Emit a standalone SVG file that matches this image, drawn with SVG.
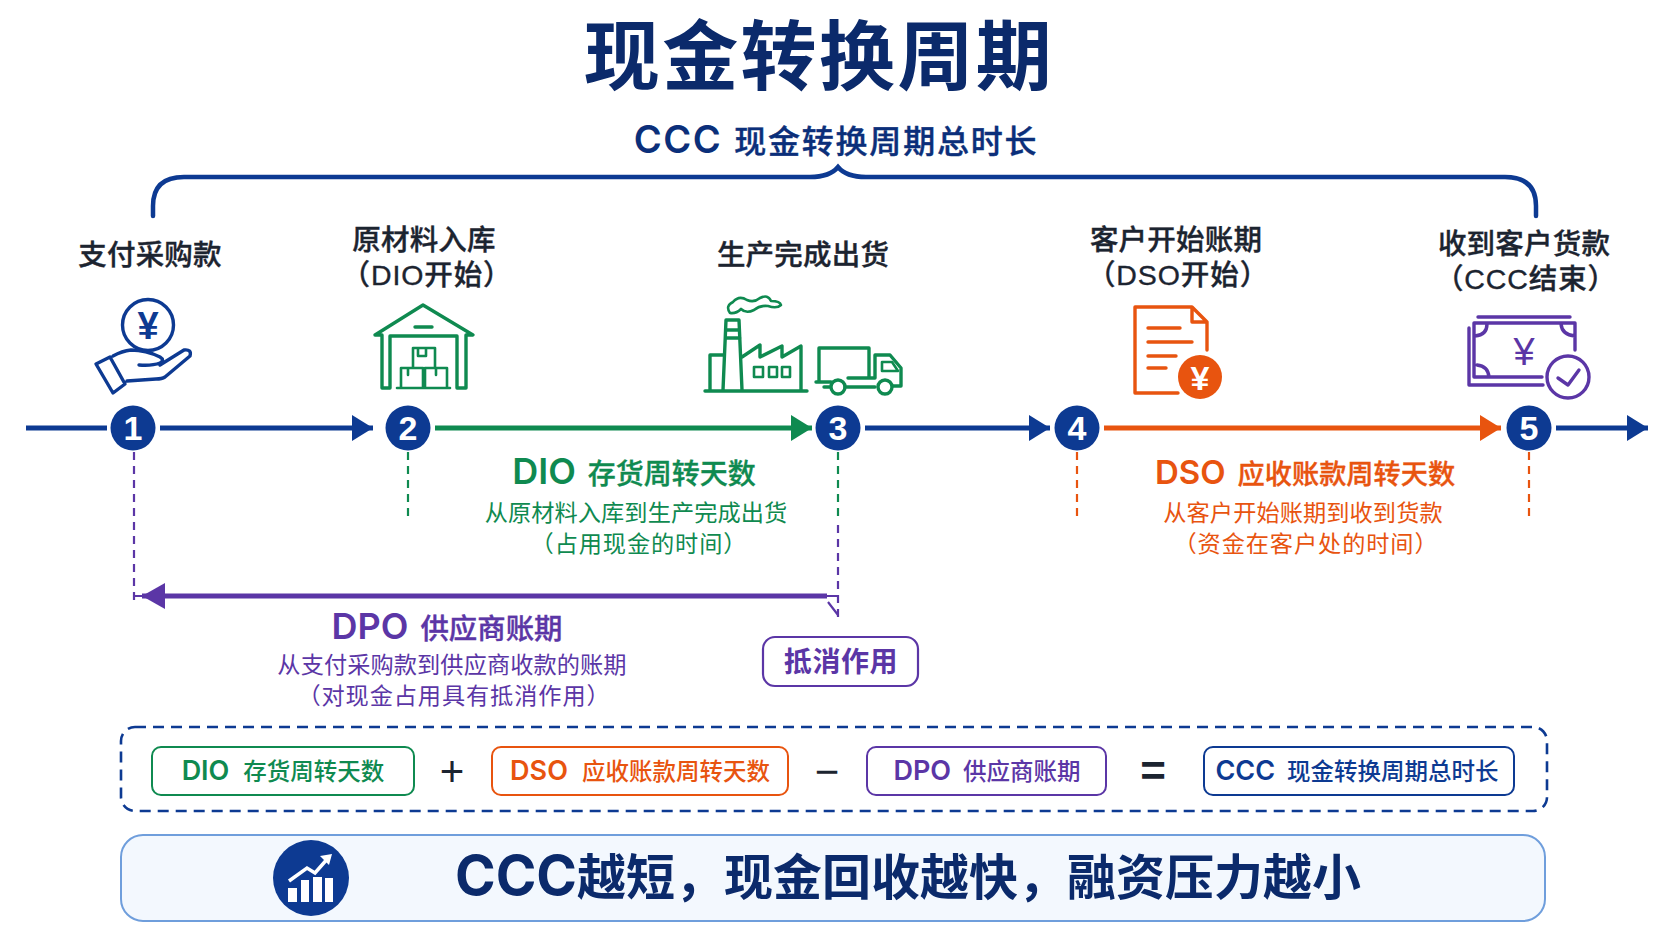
<svg xmlns="http://www.w3.org/2000/svg" width="1672" height="941" viewBox="0 0 1672 941">
<style>
text{font-family:"Liberation Sans","Noto Sans CJK SC",sans-serif;text-anchor:middle}
.cjk{font-family:"Noto Sans CJK SC","Noto Sans",sans-serif}
.lat{font-family:Inter,"Liberation Sans",sans-serif;font-weight:600}
.stepl{font-family:"Liberation Sans","Noto Sans CJK SC",sans-serif;font-size:28.5px;font-weight:500;fill:#1c2430;stroke:#1c2430;stroke-width:.35;letter-spacing:.2px}
.num{font-size:34px;font-weight:700;fill:#fff}
.c{fill:#0d3a92}
.blue{stroke:#0d3a92;fill:none}.green{stroke:#0f8a50;fill:none}.orange{stroke:#e8540f;fill:none}.purple{stroke:#5b36a6;fill:none}
.ln{stroke-width:5}
.icon{stroke-width:3.4;fill:none;stroke-linecap:round;stroke-linejoin:round}
.thin{stroke-width:2.6}
.dash{stroke-width:2.2;stroke-dasharray:8 6}
.sub{font-size:23.2px;letter-spacing:.1px}
.par{letter-spacing:.9px}
.head{font-size:28px;font-weight:500;stroke-width:.35}
.pt{font-size:23.5px;font-weight:500}
.pl{font-size:27px}
.pill{fill:#fff;stroke-width:2}
.ft{fill:#0d3a92}.fg{fill:#0f8a50}.fo{fill:#e8540f}.fp{fill:#5b36a6}
.op{font-size:42px;fill:#1c2430}
</style>
<defs>
<marker id="ab" markerUnits="userSpaceOnUse" markerWidth="22" markerHeight="26" refX="21" refY="13" orient="auto"><path d="M0 0L21 13L0 26z" fill="#0d3a92"/></marker>
<marker id="ag" markerUnits="userSpaceOnUse" markerWidth="22" markerHeight="26" refX="21" refY="13" orient="auto"><path d="M0 0L21 13L0 26z" fill="#0f8a50"/></marker>
<marker id="ao" markerUnits="userSpaceOnUse" markerWidth="22" markerHeight="26" refX="21" refY="13" orient="auto"><path d="M0 0L21 13L0 26z" fill="#e8540f"/></marker>
<marker id="ap" markerUnits="userSpaceOnUse" markerWidth="24" markerHeight="26" refX="23" refY="13" orient="auto"><path d="M0 0L23 13L0 26z" fill="#5b36a6"/></marker>
</defs>
<rect width="1672" height="941" fill="#fff"/>

<g id="title">
<text x="819" y="84" font-size="76" font-weight="700" letter-spacing="2.4" fill="#0b2a6b">现金转换周期</text>
<text x="836" y="153" fill="#0b2f7a"><tspan class="lat" font-size="38" letter-spacing="1.5">CCC</tspan><tspan class="cjk" font-size="32" dx="12" font-weight="500" letter-spacing="1.8" stroke="#0b2f7a" stroke-width=".4">现金转换周期总时长</tspan></text>
</g>

<g id="connectors">
<path id="brace" d="M153 216V206Q153 177 184 177H810Q830 177 838 167Q846 177 866 177H1505Q1536 177 1536 206V216" class="blue" stroke-width="4.5" stroke-linecap="round"/>
<path class="blue ln" d="M26 428H107"/>
<path class="blue ln" d="M160 428H373" marker-end="url(#ab)"/>
<path class="green ln" d="M435 428H812" marker-end="url(#ag)"/>
<path class="blue ln" d="M865 428H1050" marker-end="url(#ab)"/>
<path class="orange ln" d="M1104 428H1501" marker-end="url(#ao)"/>
<path class="blue ln" d="M1556 428H1648" marker-end="url(#ab)"/>
<path class="purple dash" d="M134 452V603"/>
<path class="purple" stroke-width="2" d="M134 596H142"/>
<path class="green dash" d="M408 452V520"/>
<path class="green dash" d="M838 452V520"/>
<path class="purple dash" d="M838 525V618"/>
<path class="orange dash" d="M1077 452V520"/>
<path class="orange dash" d="M1529 452V520"/>
<path class="purple ln" stroke-width="6" d="M827 596H142" marker-end="url(#ap)"/>
<path class="purple" stroke-width="2.2" d="M827 596H838M828 602L838 615"/>
</g>

<g id="node1">
<circle cx="148" cy="325" r="25.5" class="blue icon"/>
<text x="148" y="339" font-size="38" font-weight="700" class="c">¥</text>
<path class="blue icon" d="M96 364L110 357L125 384L113 393zM113 356Q122 351 131 350Q146 350 160 357Q165 360 160 363Q152 366 139 365M160 365L184 350Q192 349 190 356L165 377Q162 379 156 379L127 381"/>
<circle cx="133" cy="428" r="22.5" class="c"/><text class="num" x="133" y="440">1</text>
<text class="stepl" x="150" y="265">支付采购款</text>
</g>
<g id="node2">
<path class="green icon" d="M375 335L423 305L473 335H466V388H457V336H390V388H382V335z M415 327H432"/>
<path class="green icon thin" d="M397 388H450M401 388V368H423V388M425 388V368H447V388M413 368V348H435V368M418 349V356H426V349M408 369V375M436 369V375"/>
<circle cx="408" cy="428" r="22.5" class="c"/><text class="num" x="408" y="440">2</text>
<text class="stepl" x="424" y="250">原材料入库<tspan x="427" dy="35" class="par">（DIO开始）</tspan></text>
</g>
<g id="node3">
<path class="green icon" d="M705 391H807M710 390V355H723M723 390L726 320H739L742 390M726 330H739M726 338H740M742 357L760 345V357L782 346V357L801 346V390"/>
<rect x="754" y="367" width="9" height="10" class="green icon thin"/><rect x="769" y="367" width="8" height="10" class="green icon thin"/><rect x="782" y="367" width="8" height="10" class="green icon thin"/>
<path class="green icon thin" d="M730 313Q725 306 733 302Q739 295 747 300Q754 303 760 298Q768 294 771 301Q780 301 781 305Q777 309 768 306Q760 305 754 310Q746 314 741 309Q736 314 730 313z"/>
<path class="green icon" d="M819 381V348H869V378H848M848 378H875V355H890L901 368V386H893M875 387H845M830 387H824M816 382H831M875 355V378"/>
<circle cx="838" cy="387" r="7" class="green icon"/><circle cx="885" cy="387" r="7" class="green icon"/>
<path class="green icon thin" d="M882 362H892L898 371H882z"/>
<circle cx="838" cy="428" r="22.5" class="c"/><text class="num" x="838" y="440">3</text>
<text class="stepl" x="803" y="265">生产完成出货</text>
</g>
<g id="node4">
<path class="orange icon" d="M1207 350V322L1192 307H1135V393H1178M1207 322H1192V307M1148 328H1180M1148 342H1192M1148 356H1176M1148 368H1166"/>
<circle cx="1200" cy="377" r="22" fill="#e8540f"/>
<text x="1200" y="390" font-size="34" font-weight="700" fill="#fff">¥</text>
<circle cx="1077" cy="428" r="22.5" class="c"/><text class="num" x="1077" y="440">4</text>
<text class="stepl" x="1176" y="250">客户开始账期<tspan x="1178" dy="35" class="par">（DSO开始）</tspan></text>
</g>
<g id="node5">
<path class="purple icon" d="M1478 317H1570M1474 323H1575V350M1542 377H1474V323M1469 328V385H1543M1477 365Q1488 366 1489 377M1487 324Q1487 335 1475 336M1561 324Q1562 335 1575 336"/>
<circle cx="1568" cy="377" r="21" class="purple icon"/>
<path class="purple icon" d="M1558 378L1568 385L1579 370"/>
<text x="1524" y="365" font-size="38" class="fp">¥</text>
<circle cx="1529" cy="428" r="22.5" class="c"/><text class="num" x="1529" y="440">5</text>
<text class="stepl" x="1524" y="254">收到客户货款<tspan x="1526" dy="35" class="par">（CCC结束）</tspan></text>
</g>

<g id="dio-label">
<text x="634" y="484" class="fg"><tspan class="lat" font-size="36">DIO</tspan><tspan class="cjk head" dx="12" stroke="#0f8a50">存货周转天数</tspan></text>
<text x="636" y="521" class="fg cjk sub">从原材料入库到生产完成出货<tspan x="639" dy="31" class="par">（占用现金的时间）</tspan></text>
</g>
<g id="dso-label">
<text x="1305" y="484" class="fo"><tspan class="lat" font-size="33">DSO</tspan><tspan class="cjk head" dx="12" stroke="#e8540f" style="font-size:27.2px">应收账款周转天数</tspan></text>
<text x="1303" y="521" class="fo cjk sub">从客户开始账期到收到货款<tspan x="1306" dy="31" class="par">（资金在客户处的时间）</tspan></text>
</g>
<g id="dpo-label">
<text x="447" y="639" class="fp"><tspan class="lat" font-size="36">DPO</tspan><tspan class="cjk head" dx="12" stroke="#5b36a6" style="font-size:28.4px">供应商账期</tspan></text>
<text x="452" y="673" class="fp cjk sub">从支付采购款到供应商收款的账期<tspan x="454" dy="31" class="par">（对现金占用具有抵消作用）</tspan></text>
</g>
<g id="offset">
<rect x="763" y="637" width="155" height="49" rx="12" class="purple" stroke-width="2.2"/>
<text x="841" y="672" font-size="28" font-weight="700" letter-spacing=".6" class="cjk fp">抵消作用</text>
</g>

<g id="formula">
<rect x="121" y="727" width="1426" height="84" rx="14" class="blue" stroke-width="2.6" stroke-dasharray="11 7"/>
<rect x="152" y="747" width="262" height="48" rx="9" class="pill green"/>
<text x="283" y="780" class="fg"><tspan class="lat pl">DIO</tspan><tspan class="cjk pt" dx="14">存货周转天数</tspan></text>
<text x="452" y="786" class="op">+</text>
<rect x="492" y="747" width="296" height="48" rx="9" class="pill orange"/>
<text x="640" y="780" class="fo"><tspan class="lat pl">DSO</tspan><tspan class="cjk pt" dx="14">应收账款周转天数</tspan></text>
<text x="827" y="786" class="op">−</text>
<rect x="867" y="747" width="239" height="48" rx="9" class="pill purple"/>
<text x="987" y="780" class="fp"><tspan class="lat pl">DPO</tspan><tspan class="cjk pt" dx="12">供应商账期</tspan></text>
<text x="1153" y="786" font-size="44" font-weight="700" fill="#1c2430">=</text>
<rect x="1204" y="747" width="310" height="48" rx="9" class="pill blue"/>
<text x="1357" y="780" class="ft"><tspan class="lat pl">CCC</tspan><tspan class="cjk pt" dx="12">现金转换周期总时长</tspan></text>
</g>

<g id="summary">
<rect x="121" y="835" width="1424" height="86" rx="22" fill="#f3f8fe" stroke="#6f9edc" stroke-width="2"/>
<circle cx="311" cy="878" r="38" class="c"/>
<path fill="#fff" d="M288 888H297V902H288zM301 880H309V902H301zM313 877H322V902H313zM325 878H333V902H325z"/>
<path d="M289 881L307 868L315 873L329 857" fill="none" stroke="#fff" stroke-width="3.5"/><path d="M320 856L332 854L329 865z" fill="#fff"/>
<text x="455" y="895" style="text-anchor:start" fill="#0b2a6b"><tspan class="lat" font-size="55" style="font-weight:700">CCC</tspan><tspan class="cjk" font-size="49" font-weight="700">越短，现金回收越快，融资压力越小</tspan></text>
</g>
</svg>
